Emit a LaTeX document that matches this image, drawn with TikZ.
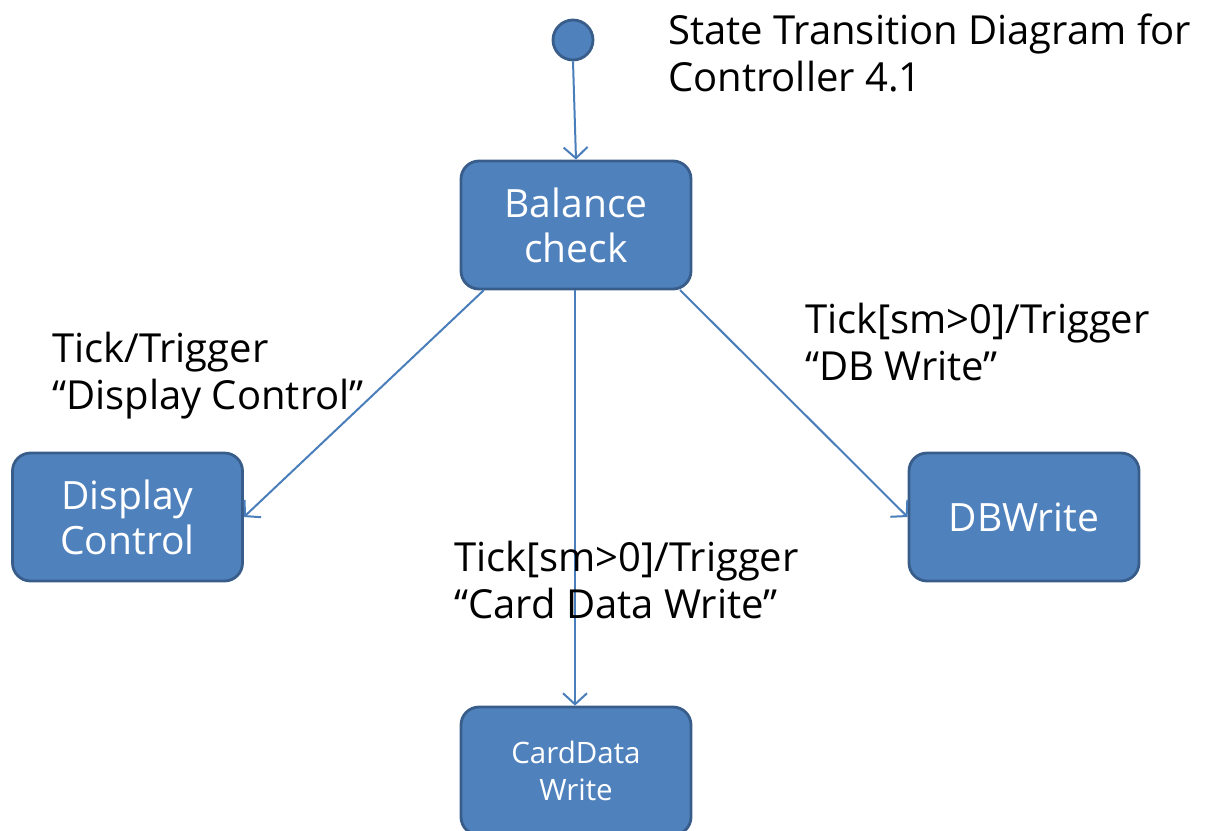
\documentclass[tikz,border=0pt]{standalone}
\usepackage{fontspec}
\setmainfont{Open Sans}
\usetikzlibrary{arrows.meta}
\definecolor{boxfill}{HTML}{4F81BD}
\definecolor{boxdraw}{HTML}{385D8A}
\definecolor{linecol}{HTML}{4A7EBB}
\tikzset{
  state/.style={draw=boxdraw, line width=2.8pt, fill=boxfill, rounded corners=18pt,
    text=white, align=center, minimum width=230pt, minimum height=128pt,
    font=\fontsize{39}{45}\selectfont, inner sep=0pt},
  smallstate/.style={state, font=\fontsize{29.5}{37}\selectfont},
  start/.style={circle, draw=boxdraw, line width=2.8pt, fill=boxfill, minimum size=40pt, inner sep=0pt},
  trans/.style={draw=linecol, line width=2pt, -{Straight Barb[length=11pt,width=24pt,line width=2pt]}},
  lbl/.style={align=left, anchor=north west, inner sep=0pt, font=\fontsize{40}{47}\selectfont, text=black}
}
\begin{document}
\begin{tikzpicture}[x=1pt,y=-1pt]
\useasboundingbox (0,0) rectangle (1212,830);
\begin{scope}
\clip (0,0) rectangle (1212,830);
\node[start] (s) at (573,40) {};
\node[state] (bc) at (576,225) {Balance\\check};
\node[state] (dc) at (127.5,517) {Display\\Control};
\node[state] (db) at (1024,517) {DBWrite};
\node[smallstate] (cd) at (576,771) {CardData\\Write};
\coordinate (bcL) at (484,290);
\coordinate (bcM) at (575,290);
\coordinate (bcR) at (680,290);
\draw[trans] (s.south) -- (bc.north);
\draw[trans] (bcL) -- (dc.east);
\draw[trans] (bcM) -- (cd.north -| bcM);
\draw[trans] (bcR) -- (db.west);
\node[lbl] (t1) at (668,14) {State Transition Diagram for\\Controller 4.1};
\node[lbl] (l1) at (52,332) {Tick/Trigger\\“Display Control”};
\node[lbl] (l2) at (805,303) {Tick[sm>0]/Trigger\\“DB Write”};
\node[lbl] (l3) at (454,541) {Tick[sm>0]/Trigger\\“Card Data Write”};
\end{scope}
\end{tikzpicture}
\end{document}
